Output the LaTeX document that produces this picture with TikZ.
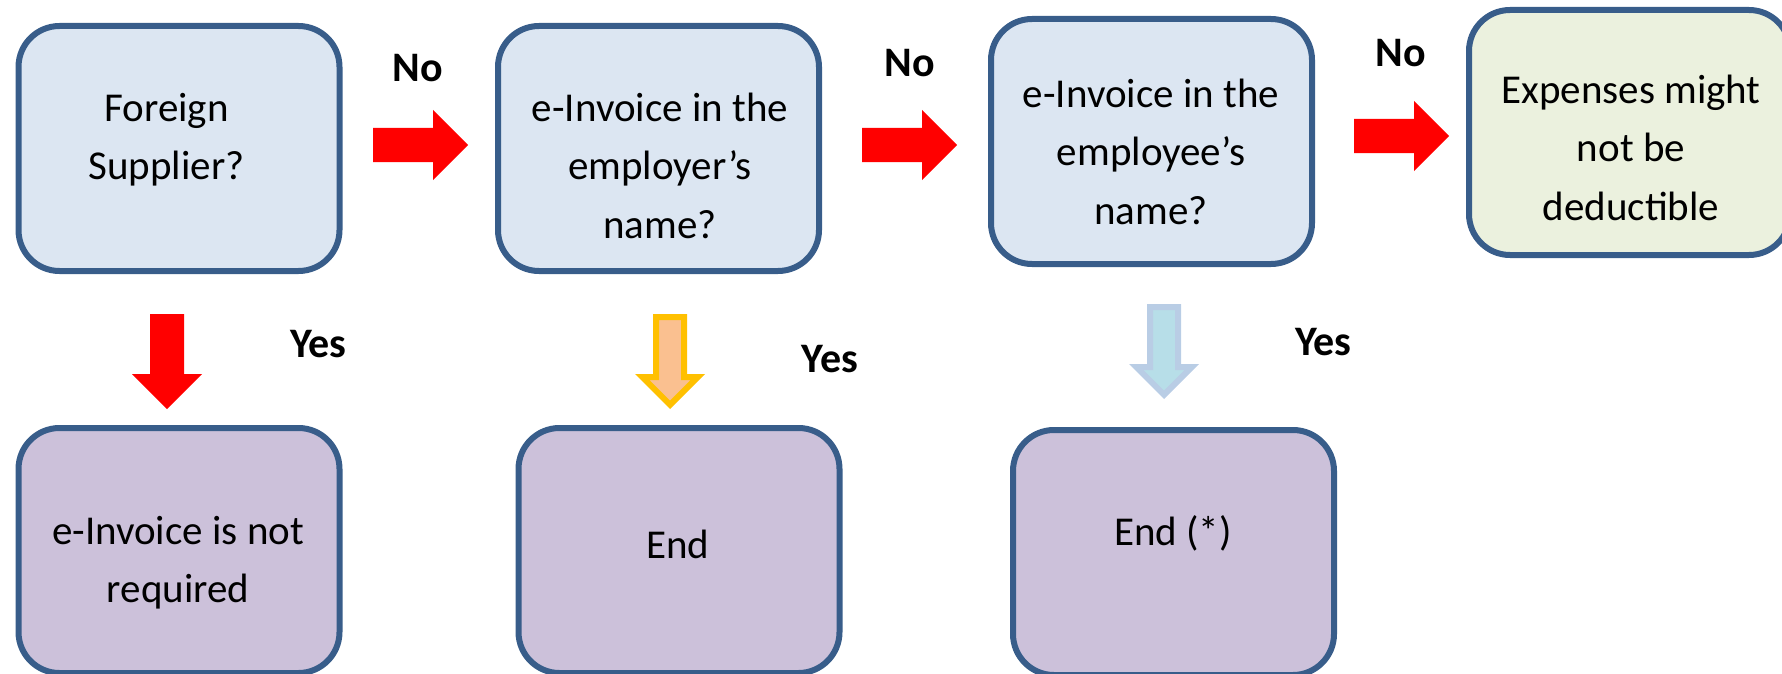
\documentclass[tikz,border=0pt]{standalone}
\usepackage{fontspec}
\setmainfont{Carlito}
\definecolor{boxborder}{HTML}{385D8A}
\definecolor{qfill}{HTML}{DCE6F2}
\definecolor{gfill}{HTML}{EBF1DE}
\definecolor{pfill}{HTML}{CCC1DA}
\definecolor{arrowred}{HTML}{FF0000}
\definecolor{ofill}{HTML}{FAC090}
\definecolor{oborder}{HTML}{FFC000}
\definecolor{bfill}{HTML}{B7DEE8}
\definecolor{bborder}{HTML}{B9CDE5}
\tikzset{
  box/.style={draw=boxborder, line width=6pt, rounded corners=41pt,
    minimum width=321pt, minimum height=245pt, inner sep=0pt},
  boxtext/.style={font=\fontsize{41}{58.5}\selectfont, align=center,
    inner sep=0pt, anchor=north},
  lbl/.style={font=\fontsize{42}{50}\selectfont\bfseries, inner sep=0pt, anchor=base},
  rarrow/.pic={\path[pic actions] (0,-17) -- (60,-17) -- (60,-35) -- (95,0)
    -- (60,35) -- (60,17) -- (0,17) -- cycle;},
  darrow/.pic={\path[pic actions] (-17,0) -- (17,0) -- (17,60) -- (35,60)
    -- (0,95) -- (-35,60) -- (-17,60) -- cycle;},
  darrowb/.pic={\path[pic actions, line width=6pt, line join=miter, miter limit=10]
    (-14,3) -- (14,3) -- (14,63) -- (27.76,63) -- (0,90.76) -- (-27.76,63)
    -- (-14,63) -- cycle;}
}
\begin{document}
\begin{tikzpicture}[x=1pt,y=-1pt]
\useasboundingbox (0,0) rectangle (1782,674);
\clip (0,0) rectangle (1782,674);
% boxes
\node[box, fill=qfill] (q1) at (179,148.5) {};
\node[box, fill=qfill] (q2) at (658.5,148.5) {};
\node[box, fill=qfill] (q3) at (1151.5,141.5) {};
\node[box, fill=gfill] (q4) at (1629.5,132.5) {};
\node[box, fill=pfill] (e1) at (179,550.5) {};
\node[box, fill=pfill] (e2) at (679,550.5) {};
\node[box, fill=pfill] (e3) at (1173.5,552.5) {};
% texts
\node[boxtext] (q1t) at (166.5,87) {\rule{0pt}{34pt}Foreign\\Supplier?};
\node[boxtext] (q2t) at (660,87) {\rule{0pt}{34pt}e-Invoice in the\\employer’s\\name?};
\node[boxtext] (q3t) at (1151,73) {\rule{0pt}{34pt}e-Invoice in the\\employee’s\\name?};
\node[boxtext] (q4t) at (1631,69) {\rule{0pt}{34pt}Expenses might\\not be\\deductible};
\node[boxtext] (e1t) at (178,510) {\rule{0pt}{34pt}e-Invoice is not\\required};
\node[boxtext] (e2t) at (678,524) {\rule{0pt}{34pt}End};
\node[boxtext] (e3t) at (1173,511) {\rule{0pt}{34pt}End (*)};
% arrows
\pic[fill=arrowred] (a1) at (373,145) {rarrow};
\pic[fill=arrowred] (a2) at (862,145) {rarrow};
\pic[fill=arrowred] (a3) at (1354,136) {rarrow};
\pic[fill=arrowred] (d1) at (167,314) {darrow};
\pic[fill=ofill, draw=oborder] (d2) at (670,314) {darrowb};
\pic[fill=bfill, draw=bborder] (d3) at (1164,304) {darrowb};
% labels
\node[lbl] (no1) at (418,82) {No};
\node[lbl] (no2) at (910,77) {No};
\node[lbl] (no3) at (1401,67) {No};
\node[lbl] (yes1) at (318.5,357) {Yes};
\node[lbl] (yes2) at (830,372) {Yes};
\node[lbl] (yes3) at (1323.5,355) {Yes};
\end{tikzpicture}
\end{document}
